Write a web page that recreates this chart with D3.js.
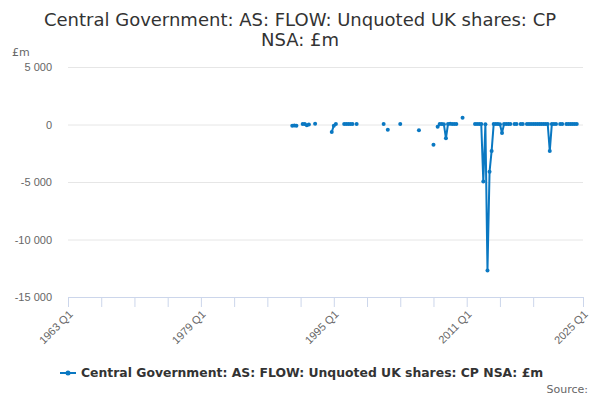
<!DOCTYPE html>
<html>
<head>
<meta charset="utf-8">
<script src="https://cdn.jsdelivr.net/npm/d3@7"></script>
<style>
  body { margin: 0; background: #fff; }
  svg { font-family: "DejaVu Sans", sans-serif; }
</style>
</head>
<body>
<script>
// observed quarters and their values (£m)
const quarters = [
  '1990 Q1','1990 Q2','1990 Q3','1991 Q2','1991 Q3','1991 Q4','1992 Q1','1992 Q4',
  '1994 Q4','1995 Q1','1995 Q2','1996 Q2','1996 Q3','1996 Q4','1997 Q1','1997 Q2','1997 Q4',
  '2001 Q1','2001 Q3','2003 Q1','2005 Q2','2007 Q1',
  '2007 Q3','2007 Q4','2008 Q1','2008 Q2','2008 Q3','2008 Q4','2009 Q1','2009 Q2','2009 Q3','2009 Q4',
  '2010 Q3',
  '2012 Q1','2012 Q2','2012 Q3','2012 Q4','2013 Q1','2013 Q2','2013 Q3','2013 Q4','2014 Q1','2014 Q2',
  '2014 Q3','2014 Q4','2015 Q1','2015 Q2','2015 Q3','2015 Q4','2016 Q1','2016 Q2',
  '2016 Q4','2017 Q1','2017 Q3','2017 Q4',
  '2018 Q2','2018 Q3','2018 Q4','2019 Q1','2019 Q2','2019 Q3','2019 Q4','2020 Q1','2020 Q2',
  '2020 Q3','2020 Q4','2021 Q1','2021 Q2','2021 Q3','2021 Q4','2022 Q2','2022 Q3',
  '2023 Q1','2023 Q2','2023 Q3','2023 Q4','2024 Q1','2024 Q2'
];
const values = [
  -100, -80, -110, 50, 40, -60, 0, 60,
  -650, -100, 50, 40, 50, 40, 50, 40, 50,
  50, -450, 50, -500, -1750,
  -200, 50, 50, 30, -1200, 50, 60, 40, 50, 50,
  580,
  50, 40, 50, 40, -4950, 30, -12700, -4100, -2300, 50,
  40, 50, 30, -730, 50, 40, 50, 50,
  40, 50, 50, 40,
  50, 50, 50, 50, 50, 50, 50, 50, 50,
  50, 40, -2300, 50, 40, 50, 50, 40,
  50, 40, 50, 50, 40, 50
];
const yTicks = [5000, 0, -5000, -10000, -15000];
const xLabels = ['1963 Q1', '1979 Q1', '1995 Q1', '2011 Q1', '2025 Q1'];

const title = ['Central Government: AS: FLOW: Unquoted UK shares: CP', 'NSA: £m'];
const seriesName = 'Central Government: AS: FLOW: Unquoted UK shares: CP NSA: £m';
const color = '#0a78c2';

const width = 600, height = 400;
const margin = {top: 67, right: 17, bottom: 103, left: 68};

// every quarter on the axis
const allQuarters = [];
for (let y = 1963; y <= 2025; y++) {
  for (let q = 1; q <= 4; q++) {
    if (y === 2025 && q > 1) break;
    allQuarters.push(y + ' Q' + q);
  }
}
const qIndex = new Map(allQuarters.map((d, i) => [d, i]));

const x = d3.scalePoint()
  .domain(allQuarters)
  .range([margin.left, width - margin.right]);

const y = d3.scaleLinear()
  .domain([-15000, 5000])
  .range([height - margin.bottom, margin.top]);

const locale = d3.formatLocale({decimal: '.', thousands: ' ', grouping: [3], currency: ['£', ''], minus: '-'});
const fmt = locale.format(',');

const svg = d3.select('body').append('svg')
  .attr('width', width)
  .attr('height', height);

// 标题
svg.selectAll('text.title')
  .data(title)
  .join('text')
  .attr('class', 'title')
  .attr('x', width / 2)
  .attr('y', (d, i) => 26 + i * 20)
  .attr('text-anchor', 'middle')
  .style('font-size', '18px')
  .style('fill', '#333')
  .text(d => d);

// 网格线 + y轴
svg.append('g')
  .attr('transform', `translate(${margin.left},0)`)
  .call(d3.axisLeft(y)
    .tickValues(yTicks)
    .tickSize(-(width - margin.left - margin.right))
    .tickPadding(16)
    .tickFormat(fmt))
  .call(g => g.select('.domain').remove())
  .call(g => g.selectAll('line').attr('stroke', '#e6e6e6'))
  .call(g => g.selectAll('text').style('font-size', '11px').style('fill', '#666'));

svg.append('text')
  .attr('x', 12)
  .attr('y', 56)
  .style('font-size', '11px')
  .style('fill', '#666')
  .text('£m');

// x轴
const tickVals = allQuarters.filter((d, i) => i % 16 === 0 && i < 240).concat(['2025 Q1']);
svg.append('g')
  .attr('transform', `translate(0,${height - margin.bottom})`)
  .call(d3.axisBottom(x)
    .tickValues(tickVals)
    .tickSize(10)
    .tickFormat(d => xLabels.includes(d) ? d : ''))
  .call(g => g.select('.domain').attr('stroke', '#ccd6eb'))
  .call(g => g.selectAll('line').attr('stroke', '#ccd6eb'))
  .call(g => g.selectAll('text')
    .style('font-size', '11px')
    .style('fill', '#666')
    .attr('text-anchor', 'end')
    .attr('y', 0)
    .attr('dy', 0)
    .attr('transform', 'translate(5,18) rotate(-45)'));

// 数据: 连续季度连线
const pts = quarters.map((q, i) => ({q: q, i: qIndex.get(q), v: values[i]}));
const runs = [];
pts.forEach((p, k) => {
  if (k === 0 || p.i - pts[k - 1].i !== 1) runs.push([]);
  runs[runs.length - 1].push(p);
});

const line = d3.line()
  .x(d => x(d.q))
  .y(d => y(d.v));

svg.append('g')
  .selectAll('path')
  .data(runs.filter(r => r.length > 1))
  .join('path')
  .attr('d', line)
  .attr('fill', 'none')
  .attr('stroke', color)
  .attr('stroke-width', 2)
  .attr('stroke-linejoin', 'round');

svg.append('g')
  .selectAll('circle')
  .data(pts)
  .join('circle')
  .attr('cx', d => x(d.q))
  .attr('cy', d => y(d.v))
  .attr('r', 2)
  .attr('fill', color);

// 图例
const lg = svg.append('g').attr('transform', 'translate(60,373)');
lg.append('line')
  .attr('x1', 0).attr('x2', 16)
  .attr('stroke', color).attr('stroke-width', 2);
lg.append('circle')
  .attr('cx', 8).attr('r', 2.5).attr('fill', color);
lg.append('text')
  .attr('x', 21)
  .attr('dy', '0.35em')
  .style('font-size', '12.4px')
  .style('font-weight', 'bold')
  .style('fill', '#333')
  .text(seriesName);

svg.append('text')
  .attr('x', 588)
  .attr('y', 393)
  .attr('text-anchor', 'end')
  .style('font-size', '11px')
  .style('fill', '#666')
  .text('Source:');
</script>
</body>
</html>
